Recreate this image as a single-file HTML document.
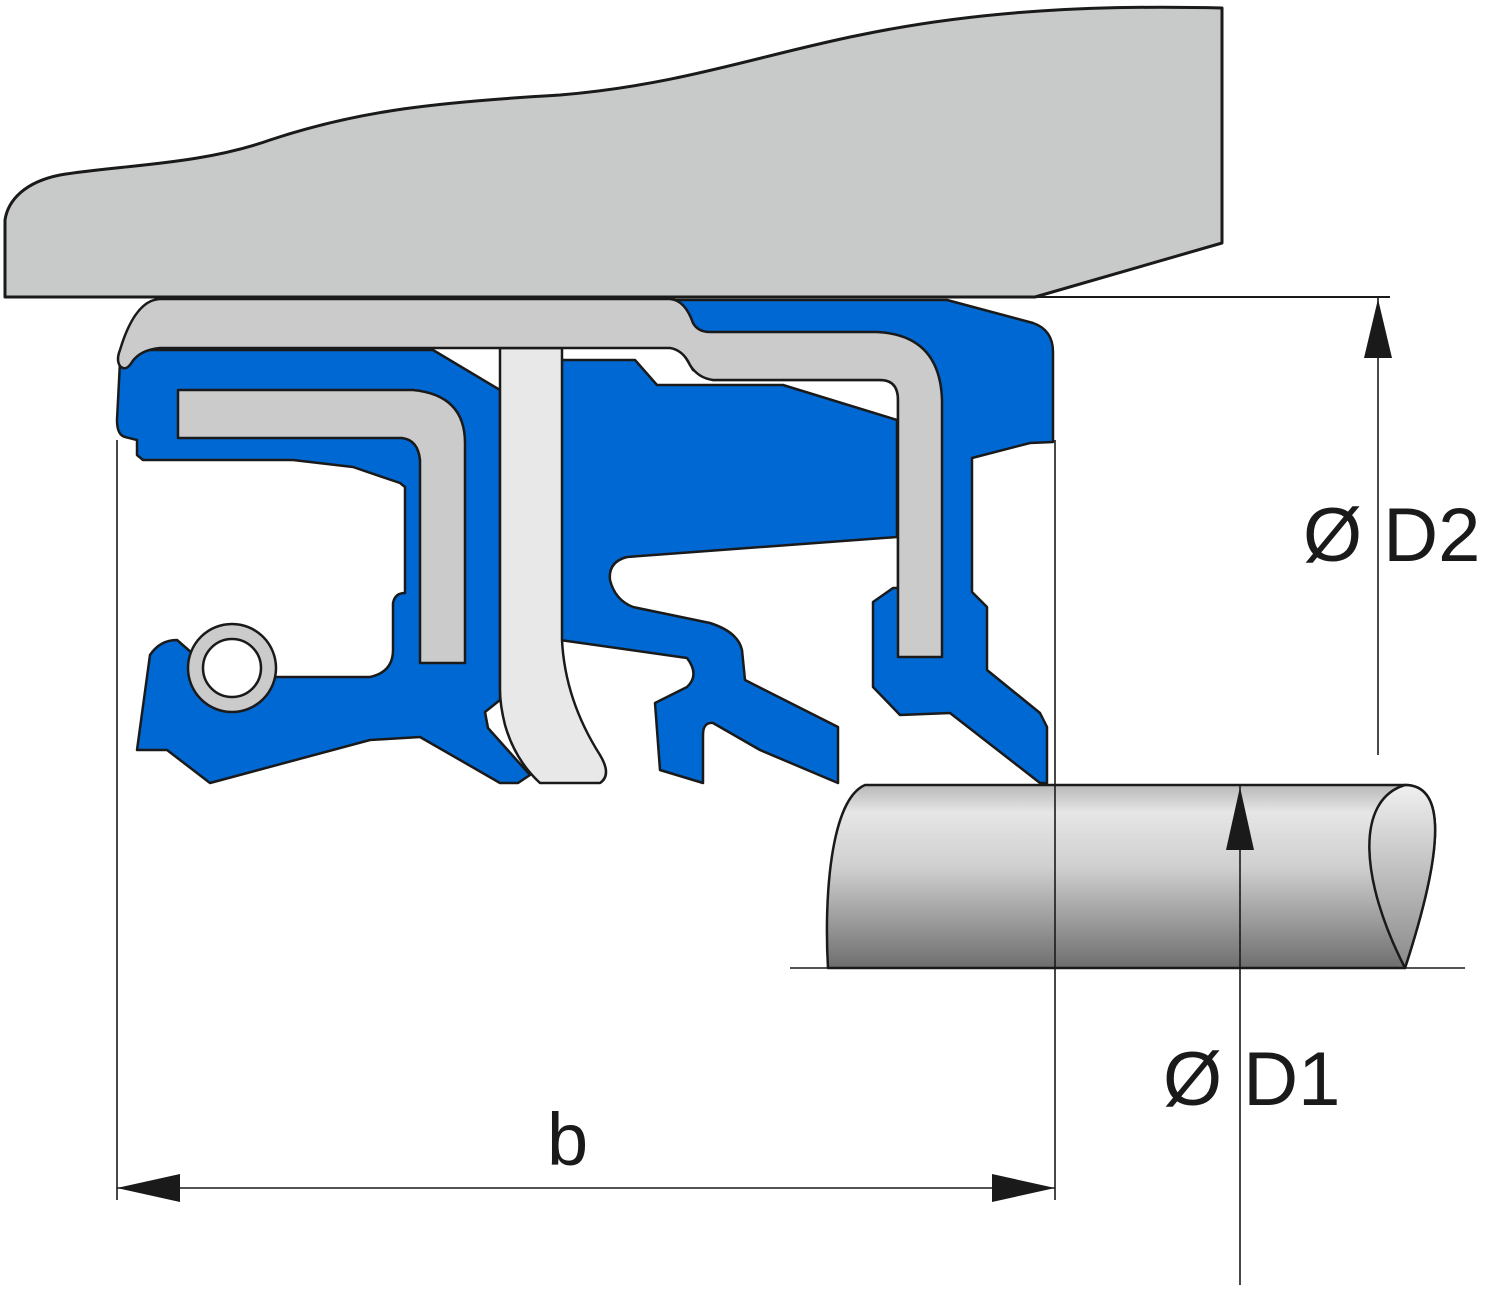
<!DOCTYPE html>
<html><head><meta charset="utf-8"><style>
html,body{margin:0;padding:0;background:#fff;}
svg{display:block;}
text{font-family:"Liberation Sans",sans-serif;fill:#1a1a1a;}
</style></head><body>
<svg width="1500" height="1289" viewBox="0 0 1500 1289" xmlns="http://www.w3.org/2000/svg">
<defs>
<linearGradient id="sh" x1="0" y1="0" x2="0" y2="1">
<stop offset="0" stop-color="#b8b8b8"/><stop offset="0.15" stop-color="#e6e6e6"/><stop offset="0.45" stop-color="#cfcfcf"/><stop offset="1" stop-color="#6e6e6e"/>
</linearGradient>
<linearGradient id="se" x1="0" y1="0" x2="0" y2="1">
<stop offset="0" stop-color="#f0f0f0"/><stop offset="1" stop-color="#8a8a8a"/>
</linearGradient>
</defs>
<g stroke="#1a1a1a" stroke-linejoin="round">
<!-- housing -->
<path d="M5,220 L5,297 L1035,297 L1222,243 L1222,8 C1100,5 980,10 860,35 C760,55 680,85 560,95 C440,102 360,110 270,140 C200,165 120,165 60,175 C25,182 8,200 5,220 Z" fill="#c8cac9" stroke-width="3"/>
<line x1="5" y1="297" x2="1390" y2="297" stroke-width="2"/>
<!-- left blue -->
<path d="M120,362 Q126,350 145,350 L433,350 L500,390 L500,700 L485,712 L488,728 L530,775 L518,783 L500,783 L420,737 L370,740 L210,783 L167,750 L137,750 L150,655 Q160,640 177,640 L200,660 L232,700 L270,677 L370,677 Q393,672 393,650 L393,603 Q395,593 405,593 L405,487 L400,483 L353,467 L293,460 L143,460 L137,455 L137,440 L125,437 Q117,435 117,420 Z" fill="#0068d2" stroke-width="2.5"/>
<!-- middle blue -->
<path d="M560,360 L635,360 L657,385 L783,385 L897,420 L897,537 L627,557 Q608,562 610,580 Q615,600 633,607 L710,623 Q738,632 742,650 L745,680 L838,727 L838,783 L760,750 L713,723 Q703,722 703,735 L703,783 L660,770 L655,703 L687,687 Q700,675 687,658 L560,640 Z" fill="#0068d2" stroke-width="2.5"/>
<!-- right blue -->
<path d="M673,300 L947,300 L1033,323 Q1053,330 1053,352 L1053,442 L1030,443 L972,458 L972,592 L987,607 L987,670 L1040,713 L1047,727 L1047,783 L1040,783 L950,713 L900,715 L873,687 L873,602 L893,588 L898,588 L898,400 Q898,380 880,380 L713,380 L693,370 L683,353 Z" fill="#0068d2" stroke-width="2.5"/>
<!-- middle white strip -->
<path d="M500,348 L562,348 L562,640 Q565,700 600,755 Q612,775 600,783 L540,783 Q515,760 505,725 Q500,705 500,690 Z" fill="#e8e8e8" stroke-width="2.5"/>
<!-- top grey insert -->
<path d="M160,299 L670,299 Q685,300 693,323 Q698,332 710,332 L877,332 Q940,335 942,400 L942,657 L898,657 L898,400 Q898,380 880,380 L713,380 Q698,378 690,365 Q683,350 670,348 L160,348 Q140,350 132,362 Q126,372 120,366 Q116,360 120,350 Q135,300 160,299 Z" fill="#cbcbcb" stroke-width="2.5"/>
<!-- left grey L -->
<path d="M178,390 L413,390 Q465,395 465,443 L465,663 L420,663 L420,460 Q418,440 402,438 L178,438 Z" fill="#cbcbcb" stroke-width="2.5"/>
<!-- spring -->
<circle cx="232" cy="668" r="44" fill="#cbcbcb" stroke-width="2.5"/>
<circle cx="232" cy="668" r="29" fill="#fff" stroke-width="2.5"/>
<!-- shaft -->
<path d="M865,785 L1405,785 C1440,785 1450,830 1405,968 L828,968 C824,900 830,800 865,785 Z" fill="url(#sh)" stroke-width="2.5"/>
<path d="M1405,968 C1360,880 1355,800 1405,785 C1440,785 1450,830 1405,968 Z" fill="url(#se)" stroke-width="2.5"/>
</g>
<g stroke="#1a1a1a" stroke-width="1.6" fill="none">
<line x1="790" y1="968" x2="1465" y2="968"/>
<line x1="117" y1="440" x2="117" y2="1200"/>
<line x1="1055" y1="440" x2="1055" y2="1200"/>
<line x1="117" y1="1188" x2="1055" y2="1188"/>
<line x1="1378" y1="297" x2="1378" y2="755"/>
<line x1="1240" y1="785" x2="1240" y2="1285"/>
</g>
<g fill="#1a1a1a">
<polygon points="117,1188 180,1174 180,1202"/>
<polygon points="1055,1188 992,1174 992,1202"/>
<polygon points="1378,299 1364,358 1392,358"/>
<polygon points="1240,787 1226,850 1254,850"/>
</g>
<text x="1303" y="561" font-size="76">Ø D2</text>
<text x="1163" y="1105" font-size="76">Ø D1</text>
<text x="547" y="1165" font-size="74">b</text>
</svg>
</body></html>
